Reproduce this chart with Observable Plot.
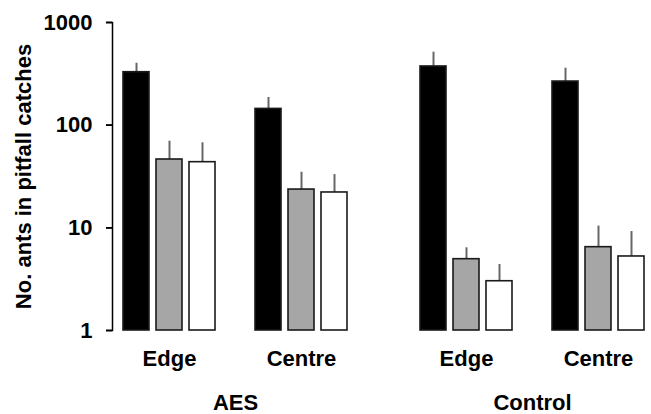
<!DOCTYPE html>
<html>
<head>
<meta charset="utf-8">
<script src="https://cdn.jsdelivr.net/npm/d3@7"></script>
<script src="https://cdn.jsdelivr.net/npm/@observablehq/plot@0.6"></script>
<style>
  html, body { margin: 0; padding: 0; background: #fff; }
  #chart { width: 651px; height: 414px; }
</style>
</head>
<body>
<div id="chart"></div>
<script>
// ---- data ----
const treatments = ["AES", "Control"];
const sites = ["Edge", "Centre"];
const seriesNames = ["Series A", "Series B", "Series C"];
const seriesFills = ["#000000", "#a6a6a6", "#ffffff"];
// group order: AES-Edge, AES-Centre, Control-Edge, Control-Centre
const meanA = [328, 144, 373, 266];
const meanB = [46.3, 23.6, 4.95, 6.48];
const meanC = [43.6, 22.1, 3.02, 5.26];
const upperA = [401, 186, 514, 359];
const upperB = [69.8, 34.8, 6.39, 10.4];
const upperC = [67.3, 33.0, 4.39, 9.2];
const yTicks = [1, 10, 100, 1000];
const yTitle = "No. ants in pitfall catches";

// ---- build table ----
const means = [meanA, meanB, meanC];
const uppers = [upperA, upperB, upperC];
const groups = [];
treatments.forEach(t => sites.forEach(s => groups.push({treatment: t, site: s})));
const rows = [];
groups.forEach((g, gi) => {
  seriesNames.forEach((name, si) => {
    rows.push({
      key: `${g.treatment}|${g.site}|${si}`,
      treatment: g.treatment, site: g.site, series: name,
      value: means[si][gi], upper: uppers[si][gi]
    });
  });
});

// band domain: bars plus spacer slots between groups/treatments
const domain = [];
treatments.forEach((t, ti) => {
  sites.forEach((s, sidx) => {
    seriesNames.forEach((_, si) => domain.push(`${t}|${s}|${si}`));
    if (sidx === 0) domain.push(`${t}|gap`);
  });
  if (ti < treatments.length - 1) { domain.push(`${t}|sep1`); domain.push(`${t}|sep2`); }
});
const siteTicks = groups.map(g => `${g.treatment}|${g.site}|1`);

const font = "'Liberation Sans', Arial, sans-serif";
const W = 651, H = 414, mL = 112, mR = 1, tickLen = 6;

const chart = Plot.plot({
  width: W,
  height: H,
  marginLeft: mL,
  marginRight: mR,
  marginTop: 22,
  marginBottom: 84,
  style: {fontFamily: font, fontSize: "22px", fontWeight: "bold", color: "#000", background: "#fff"},
  x: {type: "band", domain, paddingInner: 0.2, paddingOuter: 0, insetLeft: 5, axis: null},
  y: {type: "log", domain: [1, 1000], axis: null},
  color: {domain: seriesNames, range: seriesFills},
  marks: [
    Plot.axisY({
      ticks: yTicks, tickFormat: d => String(d), tickSize: tickLen, tickPadding: 14,
      label: null, fontSize: 22, fontWeight: "bold", strokeWidth: 1.6
    }),
    Plot.tickY(yTicks, {
      y: d => d, dx: -tickLen, insetRight: W - mL - mR - tickLen,
      stroke: "#000", strokeWidth: 1.6
    }),
    Plot.frame({anchor: "left", stroke: "#000", strokeWidth: 1.5}),
    Plot.text([yTitle], {
      text: d => d, frameAnchor: "left", rotate: -90, dx: -89, textAnchor: "middle", lineAnchor: "middle",
      fontSize: 22, fontWeight: "bold", fill: "#000"
    }),
    Plot.axisX({
      ticks: siteTicks, tickFormat: k => k.split("|")[1], tickSize: 0, tickPadding: 20,
      fontSize: 22, fontWeight: "bold", label: null
    }),
    Plot.text(treatments, {
      x: t => `${t}|gap`, text: d => d, frameAnchor: "bottom", lineAnchor: "top", dy: 64,
      fontSize: 22, fontWeight: "bold", fill: "#000"
    }),
    Plot.ruleX(rows, {x: "key", y1: "value", y2: "upper", stroke: "#666", strokeWidth: 2}),
    Plot.barY(rows, {x: "key", y1: 1, y2: "value", fill: "series", stroke: "#1a1a1a", strokeWidth: 1.6})
  ]
});
document.getElementById("chart").appendChild(chart);
</script>
</body>
</html>
